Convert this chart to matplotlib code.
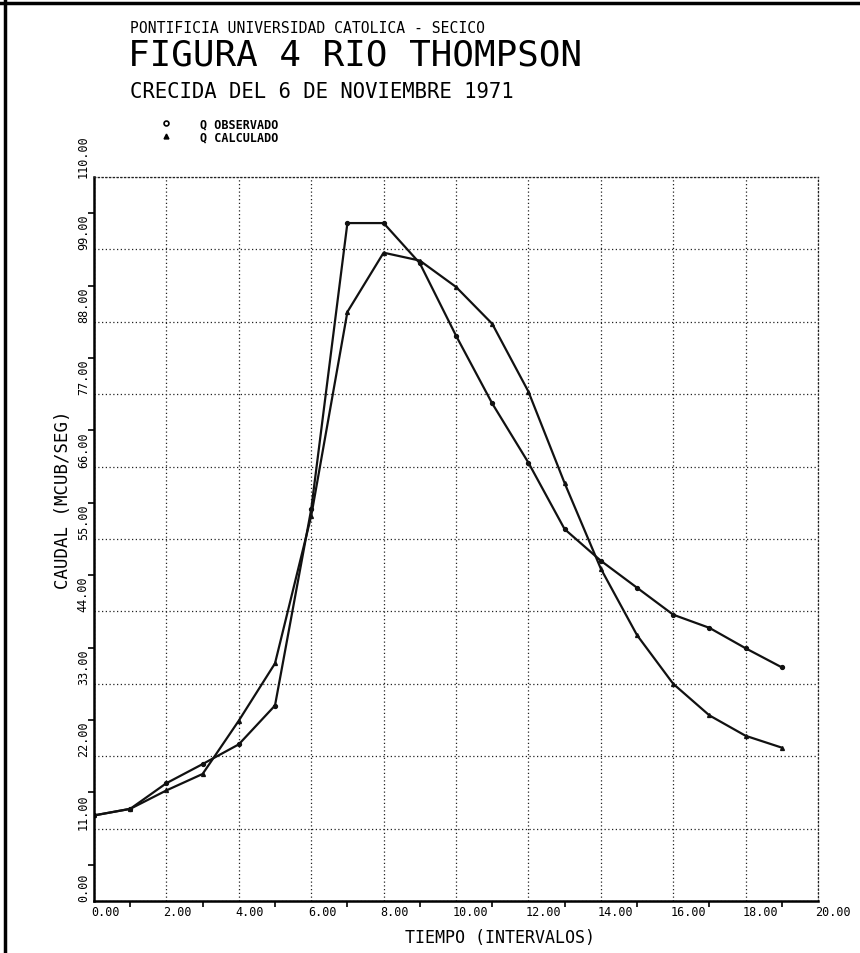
import numpy as np
import matplotlib.pyplot as plt
from matplotlib.lines import Line2D
from matplotlib.transforms import ScaledTranslation

# lecturas del grafico (caudal en m3/s por intervalo)
tiempo = list(range(20))
q_obs = [13.0, 14.0, 17.9, 20.8, 23.8, 29.7, 59.5, 103.0, 103.0, 96.9,
         85.9, 75.6, 66.6, 56.5, 51.7, 47.6, 43.5, 41.5, 38.4, 35.5]
q_cal = [13.0, 14.0, 16.8, 19.3, 27.4, 36.1, 58.5, 89.5, 98.5, 97.3,
         93.3, 87.7, 77.4, 63.5, 50.5, 40.4, 33.0, 28.2, 25.1, 23.3]

xticks = np.arange(0, 21, 2)
yticks = np.arange(0, 111, 11)
xlabels = ["%.2f" % v for v in xticks]
ylabels = ["%.2f" % v for v in yticks]

font = "DejaVu Sans Mono"
plt.rcParams['font.family'] = [font, 'DejaVu Sans']

fig = plt.figure(figsize=(8.6, 9.54), dpi=100)
ax = fig.add_axes([94/860, 52/954, 724/860, 724/954])

ax.plot(tiempo, q_obs, color='#111111', lw=1.6, marker='o', ms=2.8)
ax.plot(tiempo, q_cal, color='#111111', lw=1.6, marker='^', ms=2.8)

ax.set_xlim(0, 20)
ax.set_ylim(0, 110)
ax.set_xticks(xticks)
ax.set_yticks(yticks)
ax.set_xticks(np.arange(1, 20, 2), minor=True)
ax.set_yticks(np.arange(5.5, 110, 11), minor=True)
ax.set_xticklabels(xlabels, fontsize=8.5)
ax.set_yticklabels(ylabels, fontsize=8.5)

ax.grid(True, which='major', color='#222222', lw=0.9, ls=(0, (1, 2)))
ax.tick_params(which='major', length=0, pad=3)
ax.tick_params(which='minor', length=4, width=1.2, direction='out', color='black')

off = ScaledTranslation(-3/100, 0, fig.dpi_scale_trans)
for lbl in ax.get_xticklabels():
    lbl.set_horizontalalignment('left')
    lbl.set_transform(lbl.get_transform() + off)
for lbl in ax.get_yticklabels():
    lbl.set_rotation(90)
    lbl.set_rotation_mode('anchor')
    lbl.set_horizontalalignment('left')
    lbl.set_verticalalignment('bottom')

for s in ['left', 'bottom']:
    ax.spines[s].set_linewidth(1.8)
for s in ['top', 'right']:
    ax.spines[s].set_linestyle((0, (1, 2)))
    ax.spines[s].set_linewidth(0.9)
    ax.spines[s].set_color('#222222')

# textos
fig.text(130/860, 1-33/954, "PONTIFICIA UNIVERSIDAD CATOLICA - SECICO",
         fontsize=10.6, va='baseline', ha='left')
fig.text(128/860, 1-65/954, "FIGURA 4 RIO THOMPSON",
         fontsize=25.8, va='baseline', ha='left')
fig.text(130/860, 1-98/954, "CRECIDA DEL 6 DE NOVIEMBRE 1971",
         fontsize=14.9, va='baseline', ha='left')
fig.text(63/860, 1-500/954, "CAUDAL (MCUB/SEG)", rotation=90,
         fontsize=12.5, ha='center', va='center')
fig.text(500/860, 1-938/954, "TIEMPO (INTERVALOS)",
         fontsize=12, ha='center', va='center')

h1 = Line2D([], [], ls='none', marker='o', ms=3.5, mfc='white', mec='black', mew=1.2)
h2 = Line2D([], [], ls='none', marker='^', ms=3.5, color='black')
fig.legend([h1, h2], ["Q OBSERVADO", "Q CALCULADO"], loc='upper left',
           bbox_to_anchor=(163/860, 1-118/954), frameon=False,
           prop={'family': font, 'size': 8.5, 'weight': 'bold'},
           handlelength=0.5, handletextpad=2.6, labelspacing=0.05,
           borderpad=0, borderaxespad=0)

# marco del dibujo
fig.add_artist(Line2D([0, 1], [1-4/954, 1-4/954], color='black', lw=2.5,
                      transform=fig.transFigure))
fig.add_artist(Line2D([5/860, 5/860], [0, 1], color='black', lw=2.5,
                      transform=fig.transFigure))

fig.savefig("out.png", dpi=100, facecolor='white')
